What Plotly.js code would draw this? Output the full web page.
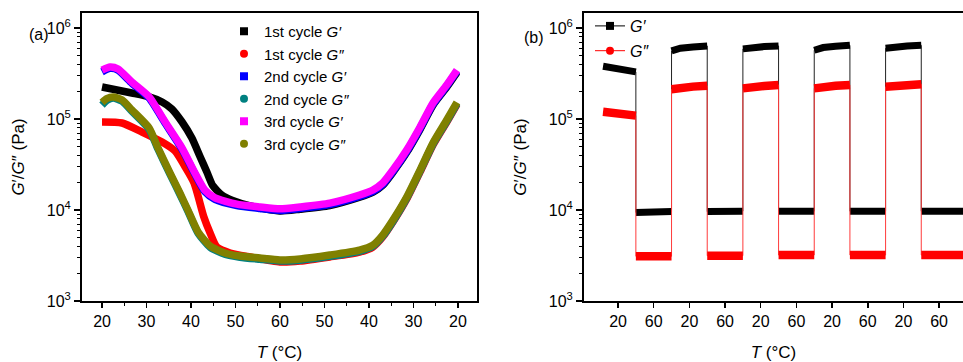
<!DOCTYPE html>
<html><head><meta charset="utf-8">
<script src="https://cdn.plot.ly/plotly-3.0.1.min.js"></script>
<style>html,body{margin:0;padding:0;background:#fff}#chart{width:963px;height:362px}</style>
</head><body><div id="chart"></div>
<script>
// ---------- Panel (a): temperature sweep 20 -> 60 -> 20 °C ----------
// x is the position along the temperature programme (20..60 heating, 60..100 = cooling back to 20)
const aTickPos  = [20, 30, 40, 50, 60, 70, 80, 90, 100];
const aTickText = ['20', '30', '40', '50', '60', '50', '40', '30', '20'];

const xMag = [20, 21.8, 23.6, 26.7, 30.6, 34.2, 38.0, 40.9, 43.1, 45.4, 50.3, 55.5, 60, 64.5, 71.2, 77.9, 80.9, 83.1, 85.4, 88.5, 91.5, 94.4, 97.5, 99.8];
const g3p = [3.45e5, 3.72e5, 3.54e5, 2.55e5, 1.75e5, 9.27e4, 4.80e4, 2.55e4, 1.66e4, 1.36e4, 1.16e4, 1.08e4, 1.03e4, 1.08e4, 1.19e4, 1.46e4, 1.66e4, 1.98e4, 2.75e4, 4.56e4, 8.17e4, 1.50e5, 2.37e5, 3.45e5];
const g2p = [3.30e5, 3.60e5, 3.45e5, 2.48e5, 1.70e5, 9.00e4, 4.65e4, 2.47e4, 1.60e4, 1.31e4, 1.12e4, 1.04e4, 0.99e4, 1.04e4, 1.15e4, 1.41e4, 1.60e4, 1.91e4, 2.65e4, 4.40e4, 7.90e4, 1.45e5, 2.30e5, 3.35e5];

const xBlk = [20, 26.7, 30.6, 33.5, 35.7, 38.0, 40.2, 42.0, 43.6, 44.9, 47.0, 49.2, 53.3, 60, 64.5, 71.2, 77.9, 80.9, 83.1, 85.4, 88.5, 91.5, 94.4, 97.5, 99.8];
const g1p = [2.25e5, 1.93e5, 1.75e5, 1.54e5, 1.29e5, 9.27e4, 6.18e4, 3.90e4, 2.60e4, 1.85e4, 1.45e4, 1.28e4, 1.11e4, 9.75e3, 1.02e4, 1.12e4, 1.38e4, 1.57e4, 1.87e4, 2.60e4, 4.30e4, 7.70e4, 1.42e5, 2.24e5, 3.25e5];

const xRed = [20, 24.5, 29.0, 33.5, 36.4, 38.7, 40.7, 42.9, 44.3, 45.8, 48.8, 53.3, 60, 64.5, 71.2, 77.9, 80.9, 83.1, 85.4, 88.5, 91.5, 94.4, 97.5, 99.8];
const g1pp = [9.27e4, 9.04e4, 7.19e4, 5.58e4, 4.45e4, 2.97e4, 1.98e4, 8.37e3, 5.58e3, 3.92e3, 3.37e3, 3.05e3, 2.69e3, 2.75e3, 3.05e3, 3.45e3, 3.92e3, 5.05e3, 7.38e3, 1.32e4, 2.62e4, 5.18e4, 9.27e4, 1.45e5];

const xOlv = [20, 21.1, 22.5, 24.5, 26.7, 30.6, 32.6, 35.3, 37.5, 39.3, 41.6, 44.3, 47.6, 51.0, 55.5, 60, 64.5, 71.2, 77.9, 80.9, 83.1, 85.4, 88.5, 91.5, 94.4, 97.5, 99.8];
const g3pp = [1.52e5, 1.68e5, 1.75e5, 1.62e5, 1.26e5, 7.96e4, 4.80e4, 2.55e4, 1.54e4, 1.00e4, 5.73e3, 4.02e3, 3.37e3, 3.12e3, 2.97e3, 2.83e3, 2.90e3, 3.20e3, 3.63e3, 4.12e3, 5.31e3, 7.76e3, 1.39e4, 2.75e4, 5.45e4, 9.75e4, 1.52e5];
const g2pp = [1.42e5, 1.60e5, 1.70e5, 1.57e5, 1.22e5, 7.70e4, 4.65e4, 2.47e4, 1.49e4, 9.70e3, 5.55e3, 3.90e3, 3.27e3, 3.03e3, 2.88e3, 2.75e3, 2.81e3, 3.10e3, 3.52e3, 4.00e3, 5.15e3, 7.50e3, 1.35e4, 2.67e4, 5.30e4, 9.45e4, 1.48e5];

const aNames = ['1st cycle <i>G′</i>', '1st cycle <i>G″</i>', '2nd cycle <i>G′</i>', '2nd cycle <i>G″</i>', '3rd cycle <i>G′</i>', '3rd cycle <i>G″</i>'];
const aColors = ['#000000', '#ff0000', '#0000ff', '#008080', '#ff00ff', '#808000'];
const aSymbols = ['square', 'circle', 'square', 'circle', 'square', 'circle'];

// ---------- Panel (b): alternating 20 / 60 °C steps ----------
const bTickText = ['20', '60', '20', '60', '20', '60', '20', '60', '20', '60'];
const bTickPos = [0.5, 1.5, 2.5, 3.5, 4.5, 5.5, 6.5, 7.5, 8.5, 9.5];
const bTime = [
  [0.08, 0.35, 0.7, 1.0], [1.0, 1.5, 2.0],
  [2.0, 2.25, 2.6, 3.0], [3.0, 3.5, 4.0],
  [4.0, 4.25, 4.6, 5.0], [5.0, 5.5, 6.0],
  [6.0, 6.25, 6.6, 7.0], [7.0, 7.5, 8.0],
  [8.0, 8.25, 8.6, 9.0], [9.0, 9.6, 10.2]
];
const bGp = [
  [3.8e5, 3.6e5, 3.45e5, 3.3e5], [9.4e3, 9.5e3, 9.6e3],
  [5.6e5, 6.0e5, 6.2e5, 6.35e5], [9.6e3, 9.7e3, 9.7e3],
  [5.9e5, 6.1e5, 6.25e5, 6.35e5], [9.7e3, 9.7e3, 9.7e3],
  [5.7e5, 6.1e5, 6.3e5, 6.45e5], [9.7e3, 9.7e3, 9.7e3],
  [6.0e5, 6.2e5, 6.35e5, 6.45e5], [9.7e3, 9.7e3, 9.7e3]
];
const bGpp = [
  [1.2e5, 1.15e5, 1.12e5, 1.09e5], [3.1e3, 3.1e3, 3.1e3],
  [2.12e5, 2.22e5, 2.27e5, 2.32e5], [3.15e3, 3.15e3, 3.15e3],
  [2.17e5, 2.25e5, 2.31e5, 2.37e5], [3.2e3, 3.2e3, 3.2e3],
  [2.17e5, 2.26e5, 2.32e5, 2.37e5], [3.2e3, 3.2e3, 3.2e3],
  [2.26e5, 2.32e5, 2.37e5, 2.41e5], [3.2e3, 3.2e3, 3.2e3]
];

// ---------- build traces ----------
const flat = a => [].concat(...a);
const gapped = a => { const out = []; a.forEach((s, i) => { if (i) out.push(null); out.push(...s); }); return out; };

const traces = [];
const aSeries = [[xBlk, g1p], [xRed, g1pp], [xMag, g2p], [xOlv, g2pp], [xMag, g3p], [xOlv, g3pp]];
aSeries.forEach(([xs, ys], i) => {
  traces.push({x: xs, y: ys, xaxis: 'x', yaxis: 'y', mode: 'lines', showlegend: false, hoverinfo: 'skip',
    line: {color: aColors[i], width: 7.5, shape: 'spline', smoothing: 0.6}});
});
aNames.forEach((n, i) => {
  traces.push({x: [null], y: [null], xaxis: 'x', yaxis: 'y', mode: 'markers', name: n, legend: 'legend', legendgroup: 'a' + i,
    marker: {color: aColors[i], symbol: aSymbols[i], size: 8}});
});

const bSeries = [[bGp, '#000000', '#222222', 7, 'square', '<i>G′</i>'], [bGpp, '#ff0000', '#ff3b3b', 8.5, 'circle', '<i>G″</i>']];
bSeries.forEach(([ys, col, thin, w, sym, nm], i) => {
  traces.push({x: flat(bTime), y: flat(ys), xaxis: 'x2', yaxis: 'y2', mode: 'lines', showlegend: false, hoverinfo: 'skip',
    line: {color: thin, width: 1}});
  traces.push({x: gapped(bTime), y: gapped(ys), xaxis: 'x2', yaxis: 'y2', mode: 'lines', showlegend: false, hoverinfo: 'skip',
    connectgaps: false, line: {color: col, width: w}});
  traces.push({x: [null], y: [null], xaxis: 'x2', yaxis: 'y2', mode: 'lines+markers', name: nm, legend: 'legend2', legendgroup: 'b' + i,
    line: {color: col, width: 1}, marker: {color: col, symbol: sym, size: 8}});
});

const W = 963, H = 362;
const logAxis = (domTop, domBot) => ({
  type: 'log', domain: [1 - domBot / H, 1 - domTop / H], range: [3, 6.165],
  tickmode: 'array', tickvals: [1e3, 1e4, 1e5, 1e6], ticktext: ['10<sup>3</sup>', '10<sup>4</sup>', '10<sup>5</sup>', '10<sup>6</sup>'],
  ticks: 'outside', ticklen: 6, tickwidth: 1.5, tickcolor: '#000',
  minor: {dtick: 'D1', ticks: 'outside', ticklen: 3, tickwidth: 1, tickcolor: '#000', showgrid: false},
  showline: true, linewidth: 2, linecolor: '#000', showgrid: false, zeroline: false,
  tickfont: {size: 16},
  title: {text: '<i>G</i>′/<i>G</i>″ (Pa)', font: {size: 17}, standoff: 18}
});

const ya = logAxis(13, 301); ya.mirror = true;
const yb = logAxis(13, 301); yb.anchor = 'x2';

const layout = {
  width: W, height: H, margin: {l: 0, r: 0, t: 0, b: 0}, paper_bgcolor: '#fff', plot_bgcolor: '#fff',
  font: {family: '"Liberation Sans", Arial, sans-serif', size: 16, color: '#000'},
  xaxis: {domain: [82 / W, 477 / W], range: [15.5, 104.3], tickmode: 'array', tickvals: aTickPos, ticktext: aTickText,
    ticks: 'outside', ticklen: 5, tickwidth: 1.5, tickcolor: '#000',
    minor: {dtick: 5, tick0: 0, ticks: 'outside', ticklen: 3, tickwidth: 1, tickcolor: '#000', showgrid: false},
    showline: true, linewidth: 2, linecolor: '#000', mirror: true, showgrid: false, zeroline: false, anchor: 'y',
    title: {text: '<i>T</i> (°C)', font: {size: 17}}},
  yaxis: ya,
  xaxis2: {domain: [584 / W, 1], range: [-0.454, 10.17], tickmode: 'array', tickvals: bTickPos, ticktext: bTickText,
    ticks: 'outside', ticklen: 5, tickwidth: 1.5, tickcolor: '#000',
    showline: true, linewidth: 2, linecolor: '#000', mirror: true, showgrid: false, zeroline: false, anchor: 'y2',
    title: {text: '<i>T</i> (°C)', font: {size: 17}}},
  yaxis2: yb,
  legend: {x: 224 / W, y: 1 - 15 / H, xanchor: 'left', yanchor: 'top', bgcolor: 'rgba(0,0,0,0)', borderwidth: 0,
    font: {size: 15}, tracegroupgap: 0},
  legend2: {x: 590 / W, y: 1 - 9 / H, xanchor: 'left', yanchor: 'top', bgcolor: 'rgba(0,0,0,0)', borderwidth: 0,
    font: {size: 16}, tracegroupgap: 1},
  annotations: [
    {text: '(a)', xref: 'paper', yref: 'paper', x: 27 / W, y: 1 - 24 / H, showarrow: false, font: {size: 16}},
    {text: '(b)', xref: 'paper', yref: 'paper', x: 534 / W, y: 1 - 27 / H, showarrow: false, font: {size: 16}}
  ]
};

Plotly.newPlot('chart', traces, layout, {displayModeBar: false, staticPlot: true});
</script></body></html>
